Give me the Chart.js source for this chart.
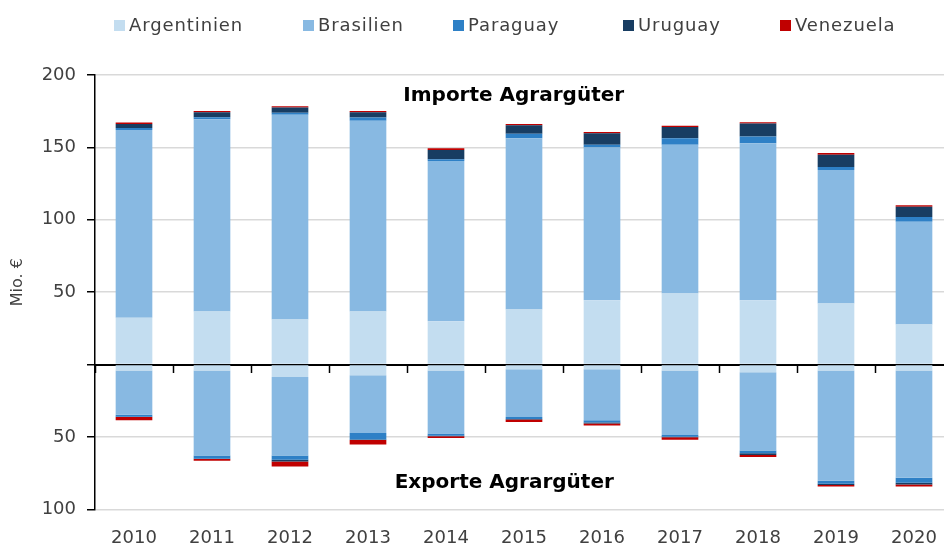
<!DOCTYPE html>
<html>
<head>
<meta charset="utf-8">
<script src="https://cdn.jsdelivr.net/npm/chart.js@4"></script>
<style>
  html, body { margin: 0; padding: 0; width: 944px; height: 547px; overflow: hidden; background: #fff; }
  #wrap { position: relative; width: 955px; height: 567px; }
  #legend { position: absolute; left: 0; top: 14px; height: 22px; width: 944px;
            font-family: "DejaVu Sans", sans-serif; font-size: 18px; letter-spacing: 0.9px; color: #404040; line-height: 22px; }
  #legend .item { position: absolute; top: 0; display: flex; align-items: center; white-space: nowrap; height: 22px; }
  #legend .box { width: 11px; height: 11px; margin-right: 4px; }
</style>
</head>
<body>
<div id="wrap">
  <canvas id="c" width="955" height="567"></canvas>
  <div id="legend"></div>
</div>
<script>
// ---- data ----
const years = ['2010','2011','2012','2013','2014','2015','2016','2017','2018','2019','2020'];
const countries = ['Argentinien','Brasilien','Paraguay','Uruguay','Venezuela'];
const colors = ['#c3ddf0','#88b9e2','#2e80c6','#183d62','#c00000'];

// Importe (Mio. €)
const impArgentinien = [32.3, 36.6, 31.1, 36.6, 30.0, 38.0, 44.5, 49.1, 44.5, 42.2, 27.7];
const impBrasilien   = [129.7, 132.8, 141.5, 131.8, 110.6, 118.3, 105.4, 102.8, 108.3, 92.2, 71.0];
const impParaguay    = [1.4, 1.4, 1.4, 2.3, 1.2, 3.2, 2.0, 4.4, 4.7, 2.0, 3.2];
const impUruguay     = [2.8, 3.5, 3.5, 3.5, 6.4, 5.8, 7.8, 7.8, 9.0, 8.6, 7.1];
const impVenezuela   = [1.0, 0.9, 0.9, 0.9, 1.2, 0.9, 1.0, 0.9, 0.9, 1.1, 1.0];

// Exporte (Mio. €, negativ dargestellt)
const expArgentinien = [-4.1, -4.1, -8.5, -7.4, -4.0, -3.2, -3.2, -4.0, -5.2, -4.1, -4.1];
const expBrasilien   = [-30.5, -58.6, -54.2, -39.9, -43.5, -33.0, -35.3, -44.6, -54.2, -76.1, -74.0];
const expParaguay    = [-1.4, -2.3, -3.0, -4.4, -1.6, -1.4, -1.4, -1.2, -1.9, -2.1, -3.5];
const expUruguay     = [-0.2, -0.2, -1.2, -0.3, -0.3, -0.3, -0.8, -0.4, -1.1, -0.9, -1.2];
const expVenezuela   = [-2.3, -1.2, -3.5, -3.2, -1.3, -1.8, -1.3, -1.7, -1.4, -1.0, -1.4];

const yTicks = [-100, -50, 0, 50, 100, 150, 200];
const axisTitle = 'Mio. €';
const importTitle = 'Importe Agrargüter';
const exportTitle = 'Exporte Agrargüter';

const importSeries = [impArgentinien, impBrasilien, impParaguay, impUruguay, impVenezuela];
const exportSeries = [expArgentinien, expBrasilien, expParaguay, expUruguay, expVenezuela];

// ---- legend (HTML) ----
const legendLeft = [114, 303, 453, 623, 780]; // layout of legend entries (px)
const legendEl = document.getElementById('legend');
countries.forEach((name, i) => {
  const it = document.createElement('div'); it.className = 'item'; it.style.left = legendLeft[i] + 'px';
  const b = document.createElement('span'); b.className = 'box'; b.style.background = colors[i];
  const t = document.createElement('span'); t.textContent = name;
  it.appendChild(b); it.appendChild(t); legendEl.appendChild(it);
});

// ---- datasets ----
const datasets = [];
importSeries.forEach((d, i) => datasets.push({ label: countries[i] + ' (Import)', data: d, backgroundColor: colors[i], stack: 's' }));
exportSeries.forEach((d, i) => datasets.push({ label: countries[i] + ' (Export)', data: d, backgroundColor: colors[i], stack: 's' }));

const FONT = '"DejaVu Sans", sans-serif';

const textPlugin = {
  id: 'texts',
  afterDraw(chart) {
    const ctx = chart.ctx, a = chart.chartArea, y = chart.scales.y;
    ctx.save();
    ctx.fillStyle = '#000';
    ctx.font = 'bold 20px ' + FONT;
    ctx.textAlign = 'center';
    ctx.textBaseline = 'alphabetic';
    ctx.fillText(importTitle, a.left + a.width * 0.488, y.getPixelForValue(181.8));
    ctx.fillText(exportTitle, a.left + a.width * 0.477, y.getPixelForValue(-85.0));
    // axis title
    ctx.font = '16px ' + FONT;
    ctx.fillStyle = '#404040';
    ctx.translate(18, (a.top + a.bottom) / 2 - 10);
    ctx.rotate(-Math.PI / 2);
    ctx.textBaseline = 'middle';
    ctx.fillText(axisTitle, 0, 0);
    ctx.restore();
  }
};

new Chart(document.getElementById('c'), {
  type: 'bar',
  data: { labels: years, datasets },
  plugins: [textPlugin],
  options: {
    responsive: false,
    animation: false,
    devicePixelRatio: 1,
    layout: { padding: { top: 75, right: 2, bottom: 0, left: 0 } },
    datasets: { bar: { barPercentage: 1, categoryPercentage: 0.47, borderWidth: 0 } },
    plugins: { legend: { display: false }, tooltip: { enabled: false } },
    scales: {
      x: {
        stacked: true,
        border: { display: false },
        grid: { display: false, drawTicks: false },
        ticks: { padding: 18, color: '#404040', font: { family: FONT, size: 18 } }
      },
      x0: {
        type: 'category',
        axis: 'x',
        position: { y: 0 },
        offset: true,
        z: 1,
        border: { display: true, color: '#000', width: 2 },
        grid: { offset: true, drawOnChartArea: false, drawTicks: true, tickLength: 7, tickColor: '#000', tickWidth: 1.5 },
        ticks: { display: false }
      },
      y: {
        stacked: true,
        min: -100,
        max: 200,
        afterFit(scale) { scale.width = 95; },
        afterBuildTicks(scale) { scale.ticks = yTicks.map(v => ({ value: v })); },
        border: { display: true, color: '#000', width: 1.5 },
        grid: {
          color: (c) => (c.tick && c.tick.value === 0) ? 'rgba(0,0,0,0)' : '#d9d9d9',
          lineWidth: 1.5,
          drawTicks: true, tickLength: 8, tickColor: '#000', tickWidth: 1.5
        },
        ticks: {
          padding: 11, color: '#404040', font: { family: FONT, size: 18 },
          callback: (v) => v === 0 ? '' : String(Math.abs(v))
        }
      }
    }
  }
});
</script>
</body>
</html>
